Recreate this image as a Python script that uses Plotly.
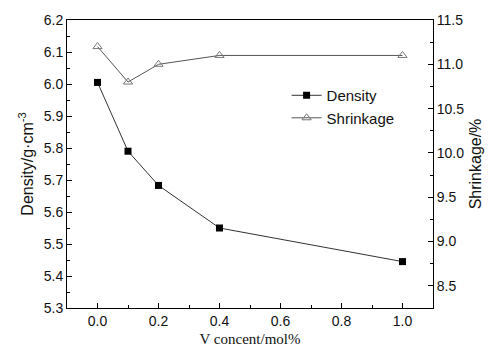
import plotly.graph_objects as go

v_concent = [0.0, 0.1, 0.2, 0.4, 1.0]
density = [6.005, 5.79, 5.683, 5.55, 5.445]
shrinkage = [11.2, 10.8, 11.0, 11.1, 11.1]

fig = go.Figure()
fig.add_trace(go.Scatter(x=v_concent, y=density, name="Density", mode="lines+markers",
                         line=dict(color="#333333", width=1),
                         marker=dict(symbol="square", size=7, color="black")))
fig.add_trace(go.Scatter(x=v_concent, y=shrinkage, name="Shrinkage", mode="lines+markers",
                         yaxis="y2",
                         line=dict(color="#555555", width=1),
                         marker=dict(symbol="triangle-up-open", size=8, color="#777777",
                                     line=dict(width=1))))

axfont = dict(family="Liberation Sans, Arial", size=14, color="#111111")
fig.update_layout(
    width=494, height=356,
    margin=dict(l=67, r=61, t=19, b=44),
    plot_bgcolor="white", paper_bgcolor="white",
    xaxis=dict(range=[-0.1, 1.1], tickvals=[0, 0.2, 0.4, 0.6, 0.8, 1.0],
               ticktext=["0.0", "0.2", "0.4", "0.6", "0.8", "1.0"],
               ticks="inside", ticklen=5, tickcolor="black", showline=True, linecolor="black",
               linewidth=1, mirror=True, showgrid=False, zeroline=False, tickfont=axfont,
               minor=dict(dtick=0.1, tick0=0, ticks="inside", ticklen=3, tickcolor="black"),
               title=dict(text="V concent/mol%", font=dict(family="Liberation Serif, Times New Roman", size=15, color="#111111"), standoff=5)),
    yaxis=dict(range=[5.3, 6.2], dtick=0.1, tickformat=".1f", ticks="inside", ticklen=5,
               tickcolor="black", showline=True, linecolor="black", linewidth=1,
               showgrid=False, zeroline=False, tickfont=axfont,
               minor=dict(dtick=0.05, ticks="inside", ticklen=3, tickcolor="black"),
               title=dict(text="Density/g·cm<sup>-3</sup>", font=dict(family="Liberation Sans, Arial", size=16, color="#111111"), standoff=6)),
    yaxis2=dict(range=[8.25, 11.5], dtick=0.5, tick0=8.5, tickformat=".1f", overlaying="y", side="right",
                ticks="inside", ticklen=5, tickcolor="black", showline=True, linecolor="black",
                linewidth=1, showgrid=False, zeroline=False, tickfont=axfont,
                minor=dict(dtick=0.25, ticks="inside", ticklen=3, tickcolor="black"),
                title=dict(text="Shrinkage/%", font=dict(family="Liberation Sans, Arial", size=16, color="#111111"), standoff=6)),
    legend=dict(x=0.6, y=0.795, xanchor="left", yanchor="top", bgcolor="rgba(0,0,0,0)",
                font=dict(family="Liberation Sans, Arial", size=15, color="#111111"),
                tracegroupgap=0, itemwidth=30),
    showlegend=True,
)

fig.write_html("out.html")
